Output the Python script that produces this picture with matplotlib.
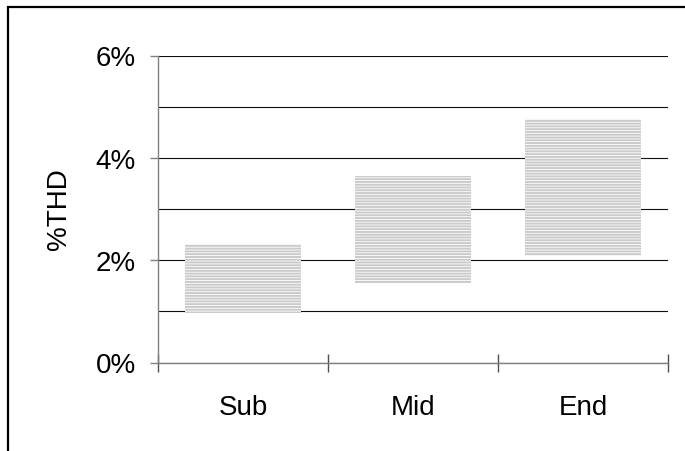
import matplotlib
matplotlib.use("Agg")
import matplotlib.pyplot as plt
from matplotlib.patches import Rectangle
from matplotlib.ticker import FuncFormatter, MultipleLocator, FixedLocator
import numpy as np

categories = ["Sub", "Mid", "End"]
thd_low = [0.97, 1.55, 2.09]
thd_high = [2.31, 3.64, 4.75]
y_ticks = [0, 2, 4, 6]

plt.rcParams["font.family"] = ["Liberation Sans", "DejaVu Sans"]
plt.rcParams["hatch.linewidth"] = 1.4

fig = plt.figure(figsize=(6.85, 4.52), dpi=100)
ax = fig.add_axes([158/685, 1-363.5/452, 510/685, 307/452])

x = np.arange(len(categories))
low = np.array(thd_low)
high = np.array(thd_high)
ax.bar(x, high - low, bottom=low, width=0.68, facecolor="white",
       edgecolor="#cacaca", linewidth=0, hatch="------", zorder=3)

ax.set_xlim(-0.5, len(categories) - 0.5)
ax.set_ylim(0, 6)

# gridlines every 1%
ax.yaxis.set_major_locator(FixedLocator(y_ticks))
ax.yaxis.set_minor_locator(MultipleLocator(1))
ax.yaxis.set_major_formatter(FuncFormatter(lambda v, p: f"{v:.0f}%"))
ax.grid(axis="y", which="both", color="#101010", linewidth=0.8, zorder=1)
ax.tick_params(axis="y", which="major", direction="out", length=6, width=1,
               color="#808080", labelsize=20, pad=10)
ax.tick_params(axis="y", which="minor", length=0)

ax.xaxis.set_major_locator(FixedLocator(np.arange(-0.5, len(categories), 1.0)))
ax.xaxis.set_major_formatter(FuncFormatter(lambda v, p: ""))
ax.xaxis.set_minor_locator(FixedLocator(x))
ax.set_xticklabels(categories, minor=True)
ax.tick_params(axis="x", which="major", direction="inout", length=13, width=1,
               color="#505050")
ax.tick_params(axis="x", which="minor", length=0, labelsize=20, pad=23)

for s in ["top", "right"]:
    ax.spines[s].set_visible(False)
for s in ["left", "bottom"]:
    ax.spines[s].set_color("#808080")
    ax.spines[s].set_linewidth(1)
    ax.spines[s].set_zorder(4)

fig.text(59/685, 1-209.5/452, "%THD", rotation=90, ha="center", va="center",
         fontsize=20)

fig.patches.append(Rectangle((8/685, -0.2), 1.2, 1.2 - 8/452 + 0.0,
                             transform=fig.transFigure, fill=False,
                             edgecolor="black", linewidth=1.6))
fig.savefig("out.png", dpi=100)
